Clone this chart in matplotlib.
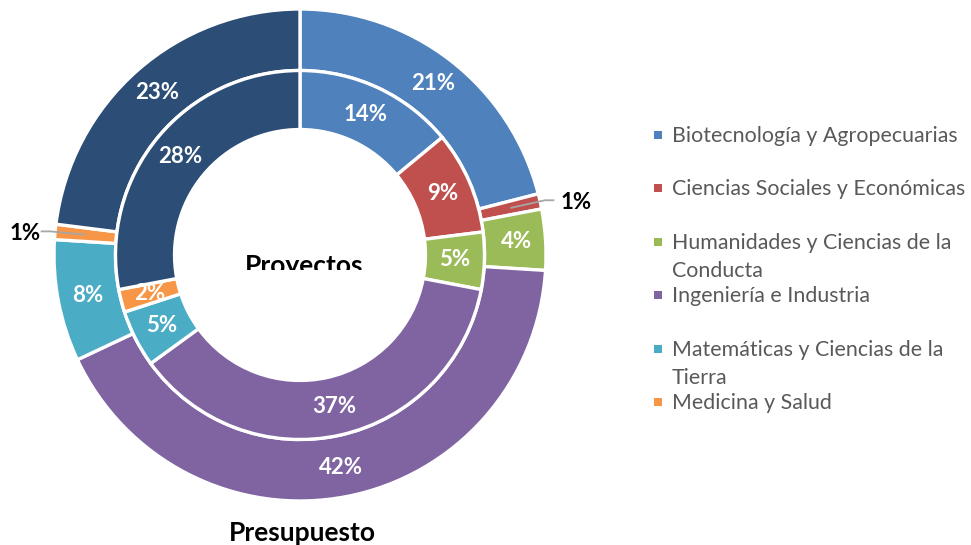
import numpy as np
import matplotlib.pyplot as plt
from matplotlib.patches import Rectangle
from matplotlib.transforms import Bbox

plt.rcParams['font.family'] = ['Lato', 'DejaVu Sans']

# datos
areas = ['Biotecnología y Agropecuarias',
         'Ciencias Sociales y Económicas',
         'Humanidades y Ciencias de la\nConducta',
         'Ingeniería e Industria',
         'Matemáticas y Ciencias de la\nTierra',
         'Medicina y Salud',
         'Otras']
presupuesto = [21, 1, 4, 42, 8, 1, 23]   # anillo exterior
proyectos = [14, 9, 5, 37, 5, 2, 28]     # anillo interior
colores = ['#4F81BD', '#C0504D', '#9BBB59', '#8064A2', '#4BACC6', '#F79646', '#2C4D75']
en_leyenda = 6

W, H = 971, 545
fig = plt.figure(figsize=(W / 100, H / 100), dpi=100)

# el circulo: centro (300, 255) px, radio 246 px
R, cx, cy, lim = 246, 300, 255, 1.1
lado = 2 * lim * R
ax = fig.add_axes([(cx - lim * R) / W, (H - cy - lim * R) / H, lado / W, lado / H])

wp = dict(edgecolor='white', linewidth=2.4)
ext, _ = ax.pie(presupuesto, radius=1.0, startangle=90, counterclock=False,
                colors=colores, wedgeprops=dict(width=0.25, **wp))
inn, _ = ax.pie(proyectos, radius=0.75, startangle=90, counterclock=False,
                colors=colores, wedgeprops=dict(width=0.24, **wp))
ax.set_xlim(-lim, lim)
ax.set_ylim(-lim, lim)
ax.set_aspect('equal')
ax.axis('off')


def medio(w, r):
    a = np.deg2rad((w.theta1 + w.theta2) / 2)
    return r * np.cos(a), r * np.sin(a)


fnt = dict(fontsize=16, fontweight='bold', ha='center', va='center')

for w, v in zip(inn, proyectos):
    x, y = medio(w, 0.63)
    ax.text(x, y, f'{v}%', color='white', **fnt)

for w, v in zip(ext, presupuesto):
    if v > 1:
        x, y = medio(w, 0.88)
        ax.text(x, y, f'{v}%', color='white', **fnt)
    else:
        # etiqueta fuera con linea guia
        x0, y0 = medio(w, 0.88)
        x1, y1 = medio(w, 1.02)
        lado_x = 1 if x1 > 0 else -1
        x2 = x1 + lado_x * 0.035
        ax.plot([x0, x1, x2], [y0, y1, y1], color='#A6A6A6', lw=1.3,
                clip_on=False, zorder=5)
        ax.text(x2 + lado_x * (0.03 if lado_x > 0 else 0.005), y1 - 0.01,
                f'{v}%', color='black', fontsize=16, fontweight='bold',
                ha='left' if lado_x > 0 else 'right', va='center')

# titulos
t = fig.text(304 / W, 1 - 274 / H, 'Proyectos', fontsize=19, fontweight='bold',
             ha='center', va='baseline', color='black')
t.set_clip_box(Bbox([[0, H - 270], [W, H]]))
t.set_clip_on(True)
fig.text(302 / W, 1 - 541 / H, 'Presupuesto', fontsize=19, fontweight='bold',
         ha='center', va='baseline', color='black')

# leyenda
base0, paso, interl = 142, 53.4, 28
for i in range(en_leyenda):
    yb = base0 + i * paso
    fig.patches.append(Rectangle((654 / W, 1 - (yb - 3) / H), 8 / W, 8 / H,
                                 transform=fig.transFigure, facecolor=colores[i],
                                 edgecolor='none'))
    for j, linea in enumerate(areas[i].split('\n')):
        fig.text(672 / W, 1 - (yb + j * interl) / H, linea, fontsize=15.4,
                 color='#595959', ha='left', va='baseline')

fig.savefig('out.png', dpi=100)
